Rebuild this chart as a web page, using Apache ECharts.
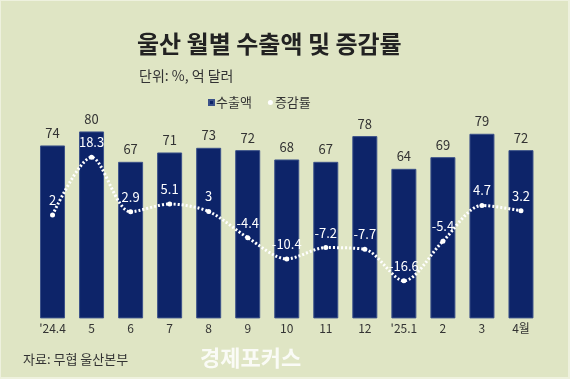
<!DOCTYPE html>
<html><head><meta charset="utf-8">
<script src="https://cdn.jsdelivr.net/npm/echarts@6/dist/echarts.min.js"></script>
<style>html,body{margin:0;padding:0;background:#dfe5c4;}#c{width:570px;height:379px;}</style>
</head><body><div id="c"></div>
<script>
const categories = ["'24.4","5","6","7","8","9","10","11","12","'25.1","2","3","4월"];
const exportsValues = [74,80,67,71,73,72,68,67,78,64,69,79,72];
const changeRates = [2,18.3,2.9,5.1,3,-4.4,-10.4,-7.2,-7.7,-16.6,-5.4,4.7,3.2];

const FONT = '"Noto Sans CJK KR","Noto Sans",sans-serif';
const chart = echarts.init(document.getElementById('c'), null, {renderer:'canvas'});
chart.setOption({
  backgroundColor:'#dfe5c4',
  animation:false,
  textStyle:{fontFamily:FONT},
  title:[
    {text:'울산 월별 수출액 및 증감률', left:132, top:27,
     textStyle:{fontSize:24, fontWeight:'bold', color:'#222', fontFamily:FONT, letterSpacing:-1.3}},
    {text:'단위: %, 억 달러', left:134, top:64,
     textStyle:{fontSize:14, fontWeight:'normal', color:'#333', fontFamily:FONT, letterSpacing:-0.5}},
    {text:'자료: 무협 울산본부', left:18, top:348,
     textStyle:{fontSize:13, fontWeight:'normal', color:'#333', fontFamily:FONT}}
  ],
  legend:{
    left:203, top:91, itemGap:16, itemWidth:5, itemHeight:5,
    textStyle:{fontSize:13, color:'#333', fontFamily:FONT, padding:[0,0,0,-3]},
    data:[{name:'수출액', icon:'rect'},{name:'증감률', icon:'circle'}]
  },
  graphic:[
    {type:'text', left:200, top:347, style:{text:'경제포커스', fill:'rgba(255,255,255,0.85)', font:'bold 22px '+FONT}},
    {type:'rect', shape:{x:0,y:0,width:569,height:378}, style:{fill:'none', stroke:'#eef1de', lineWidth:2}, silent:true}
  ],
  grid:{left:33, right:29.5, top:84.7, bottom:60.6, containLabel:false},
  xAxis:{
    type:'category', data:categories,
    axisLine:{show:false}, axisTick:{show:false},
    axisLabel:{color:'#333', fontSize:12, margin:4, fontFamily:FONT}
  },
  yAxis:[
    {type:'value', min:0, max:100, show:false, splitLine:{show:false}},
    {type:'value', min:-27.2, max:38.8, show:false, splitLine:{show:false}}
  ],
  series:[
    {name:'수출액', type:'bar', data:exportsValues, barWidth:25, yAxisIndex:0,
     itemStyle:{color:'#0d2469', borderColor:'#3b5189', borderWidth:1},
     label:{show:true, position:'top', distance:6, color:'#333', fontSize:13, fontFamily:FONT}},
    {name:'증감률', type:'line', data:changeRates, yAxisIndex:1, smooth:0.3,
     symbol:'circle', symbolSize:5, itemStyle:{color:'#fff'},
     lineStyle:{color:'#fff', width:3, type:[2,2]},
     label:{show:true, position:'top', distance:6, color:'#fff', fontSize:13, fontFamily:FONT}, z:5}
  ]
});
</script></body></html>
